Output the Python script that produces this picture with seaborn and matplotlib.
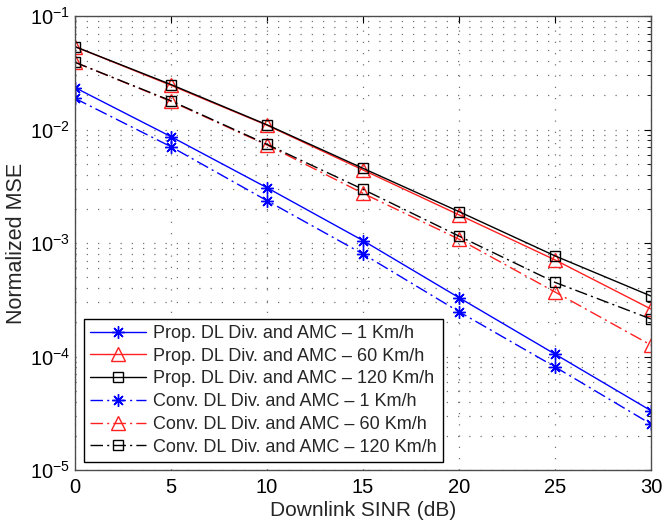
import numpy as np
import pandas as pd
import matplotlib
matplotlib.use("Agg")
import matplotlib.pyplot as plt
import seaborn as sns
from matplotlib.ticker import LogLocator, NullFormatter, FixedLocator

# Data
sinr = [0, 5, 10, 15, 20, 25, 30]

prop_1 = [0.0234, 0.00865, 0.00307, 0.00105, 0.00033, 0.000105, 3.33e-5]
prop_60 = [0.0537, 0.0245, 0.0109, 0.0044, 0.00177, 0.00071, 0.000262]
prop_120 = [0.0537, 0.0249, 0.0110, 0.00455, 0.00189, 0.00077, 0.000341]
conv_1 = [0.0188, 0.00705, 0.00236, 0.00080, 0.000248, 8.1e-5, 2.54e-5]
conv_60 = [0.0391, 0.0177, 0.0073, 0.00274, 0.00108, 0.00037, 0.000126]
conv_120 = [0.0391, 0.0179, 0.0074, 0.00297, 0.00115, 0.00045, 0.000214]

labels = [
    "Prop. DL Div. and AMC \u2013 1 Km/h",
    "Prop. DL Div. and AMC \u2013 60 Km/h",
    "Prop. DL Div. and AMC \u2013 120 Km/h",
    "Conv. DL Div. and AMC \u2013 1 Km/h",
    "Conv. DL Div. and AMC \u2013 60 Km/h",
    "Conv. DL Div. and AMC \u2013 120 Km/h",
]

sns.set_style("white")
plt.rcParams['font.family'] = ['Liberation Sans', 'DejaVu Sans']
plt.rcParams['mathtext.fontset'] = 'custom'
plt.rcParams['mathtext.rm'] = 'Liberation Sans'

fig = plt.figure(figsize=(6.63, 5.21), dpi=100)
ax = fig.add_axes([75 / 663, 51 / 521, 576 / 663, 454 / 521])

dashdot = (0, (9, 3, 1.5, 3))
asterisk = (8, 2, 0)
series = [
    (prop_1, "#0000ff", asterisk, "-", 9),
    (prop_60, "#ff2020", "^", "-", 10),
    (prop_120, "#000000", "s", "-", 7),
    (conv_1, "#0000ff", asterisk, dashdot, 9),
    (conv_60, "#ff2020", "^", dashdot, 10),
    (conv_120, "#000000", "s", dashdot, 7),
]

for (vals, col, mk, ls, ms), lab in zip(series, labels):
    df = pd.DataFrame({"sinr": sinr, "mse": vals})
    sns.lineplot(data=df, x="sinr", y="mse", ax=ax, color=col, marker=mk,
                 linestyle=ls, linewidth=1.0, markersize=ms,
                 markerfacecolor="none", markeredgecolor=col,
                 markeredgewidth=1.0, label=lab)

ax.set_yscale("log")
ax.set_xlim(0, 30)
ax.set_ylim(1e-5, 1e-1)
ax.set_xticks([0, 5, 10, 15, 20, 25, 30])
ax.yaxis.set_major_locator(FixedLocator([1e-5, 1e-4, 1e-3, 1e-2, 1e-1]))
ax.yaxis.set_minor_locator(LogLocator(base=10, subs=np.arange(2, 10), numticks=20))
ax.yaxis.set_minor_formatter(NullFormatter())
ax.set_yticklabels([r"$10^{-5}$", r"$10^{-4}$", r"$10^{-3}$", r"$10^{-2}$", r"$10^{-1}$"])

grid_style = dict(color="0.45", linestyle=(0, (1, 8)), linewidth=0.9)
ax.grid(True, which="major", axis="both", **grid_style)
ax.grid(True, which="minor", axis="y", **grid_style)

ax.tick_params(which="both", direction="in", top=True, right=True,
               labelsize=14.5, colors="black")
ax.tick_params(which="major", length=5)
ax.tick_params(which="minor", length=3)
ax.tick_params(axis="x", pad=6)
for sp in ax.spines.values():
    sp.set_color("0.3")
    sp.set_linewidth(1.0)

ax.set_xlabel("Downlink SINR (dB)", fontsize=15, labelpad=3)
ax.set_ylabel("Normalized MSE", fontsize=15.5, labelpad=2)

leg = ax.legend(loc="lower left", bbox_to_anchor=(0.0155, 0.0175), fontsize=13,
                frameon=True, fancybox=False, framealpha=1, edgecolor="black",
                handlelength=3.1, borderpad=0.35, labelspacing=0.32,
                handletextpad=0.4, borderaxespad=0)
leg.get_frame().set_linewidth(1.0)

fig.savefig("out.png", dpi=100)
